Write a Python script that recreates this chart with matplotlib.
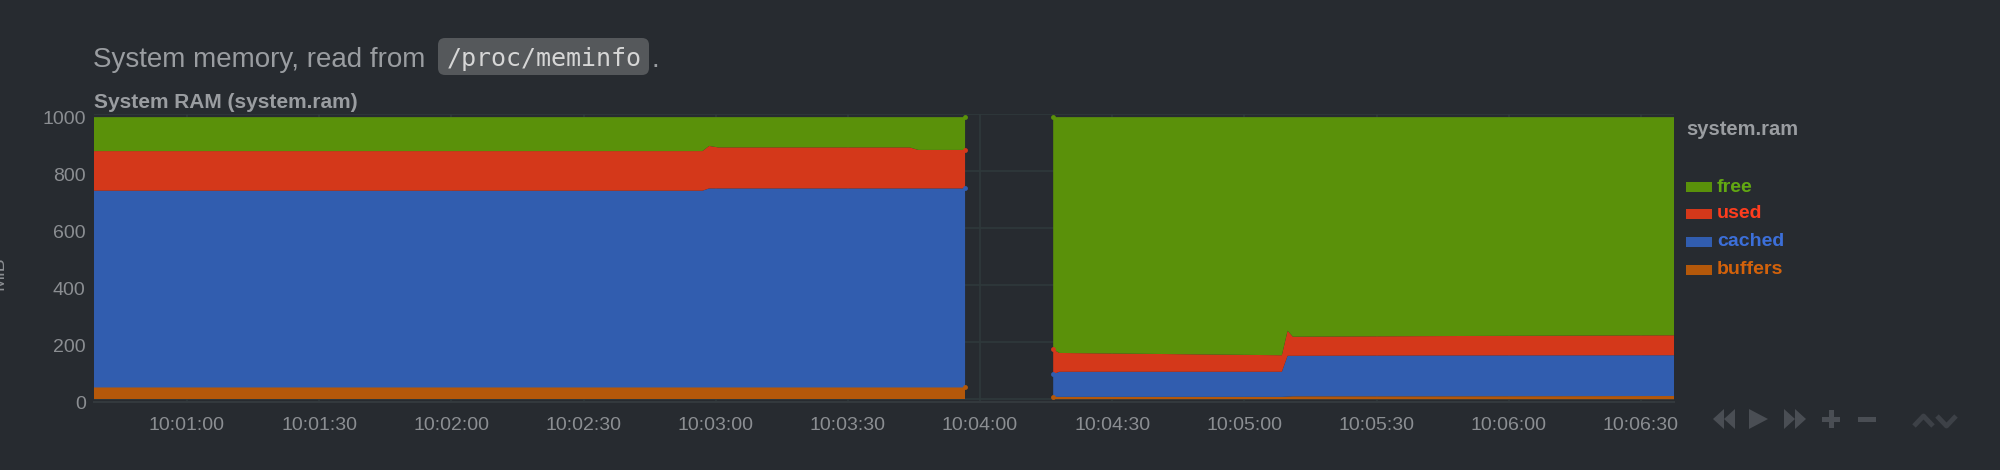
import matplotlib
matplotlib.use('Agg')
import matplotlib.pyplot as plt
import matplotlib.transforms as mtransforms
from matplotlib.patches import FancyBboxPatch, Rectangle, Polygon
from matplotlib.ticker import FuncFormatter, MultipleLocator

plt.rcParams['font.family'] = ['Liberation Sans', 'DejaVu Sans']

# seconds after 10:00:00, two collected stretches with a gap between them
times1 = [38.9, 177, 178.5, 180.5, 224, 226, 236.6]
buffers1 = [41, 41, 41, 41, 41, 41, 41]
cached1 = [690, 690, 698, 698, 698, 698, 698]
used1 = [139, 139, 149, 144, 144, 135, 135]
free1 = [119, 119, 101, 106, 106, 115, 115]

times2 = [256.6, 258, 308.5, 309.8, 311, 340, 397.5]
buffers2 = [8, 8, 8, 9, 10, 10, 11]
cached2 = [80, 88, 88, 143, 142, 143, 143]
used2 = [87, 66, 58, 88, 67, 68, 70]
free2 = [814, 827, 835, 749, 770, 768, 765]

dims = ['buffers', 'cached', 'used', 'free']
fill_cols = ['#b4580a', '#315daf', '#d4381a', '#5a910a']
text_cols = ['#d3620b', '#3c6fd9', '#ff3d1e', '#62a812']

bg = '#272b30'
grid_col = '#2f393b'
lab_col = '#8b8e92'

fig = plt.figure(figsize=(20, 4.7), dpi=100, facecolor=bg)
W, H = 2000, 470
top_px, bot_px = 114, 402
ax = fig.add_axes([94 / W, 1 - bot_px / H, (1674 - 94) / W, (bot_px - top_px) / H])
ax.set_facecolor(bg)

for t, b, c, u, f in [(times1, buffers1, cached1, used1, free1),
                      (times2, buffers2, cached2, used2, free2)]:
    ax.stackplot(t, b, c, u, f, colors=fill_cols, linewidth=0, zorder=2)
    # edge dots on each stacked top
    idx = -1 if t is times1 else 0
    acc = 0
    for series, col in zip((b, c, u, f), fill_cols):
        acc += series[idx]
        ax.plot([t[idx]], [acc], 'o', ms=3.5, color=col, mec='none', zorder=3, clip_on=False)

ax.set_xlim(38.9, 397.5)
ax.set_ylim(-10, 1000)
ax.xaxis.set_major_locator(MultipleLocator(30))
ax.yaxis.set_major_locator(MultipleLocator(200))
ax.xaxis.set_major_formatter(FuncFormatter(
    lambda v, p: '10:%02d:%02d' % (int(round(v)) // 60, int(round(v)) % 60)))
ax.grid(True, color=grid_col, lw=1.2, zorder=0)
ax.tick_params(length=0, labelsize=14, colors=lab_col)
ax.tick_params(axis='x', pad=11)
ax.tick_params(axis='y', pad=6)
shift = mtransforms.ScaledTranslation(0, -3 / 100, fig.dpi_scale_trans)
for lab in ax.get_yticklabels():
    lab.set_transform(lab.get_transform() + shift)
for s in ['top', 'left', 'right']:
    ax.spines[s].set_visible(False)
ax.spines['bottom'].set_color('#33393d')
ax.spines['bottom'].set_linewidth(1.5)

# overlay in pixel coordinates for page text, legend and controls
ov = fig.add_axes([0, 0, 1, 1])
ov.set_xlim(0, W)
ov.set_ylim(H, 0)
ov.axis('off')
ov.patch.set_visible(False)

ov.text(93, 67, 'System memory, read from', fontsize=20, color='#9a9da1', va='baseline')
ov.add_patch(FancyBboxPatch((442, 42), 203, 29, boxstyle='round,pad=4,rounding_size=7',
                            fc='#55585b', ec='none'))
ov.text(447, 66, '/proc/meminfo', family='DejaVu Sans Mono', fontsize=18,
        color='#d6d6d6', va='baseline')
ov.text(652, 67, '.', fontsize=20, color='#9a9da1', va='baseline')
ov.text(94, 108, 'System RAM (system.ram)', fontsize=15, weight='bold',
        color='#9a9da1', va='baseline')
ov.text(7, 273, 'MiB', rotation=90, fontsize=14, color=lab_col, ha='right', va='center')

# legend
ov.text(1686, 135, 'system.ram', fontsize=14.5, weight='bold', color='#9a9da1', va='baseline')
rows = [187, 214, 242, 270]
for name, fc, tc, yr in zip(dims[::-1], fill_cols[::-1], text_cols[::-1], rows):
    ov.add_patch(Rectangle((1686, yr - 5), 26, 10, fc=fc, ec='none'))
    ov.text(1717, yr, name, fontsize=14, weight='bold', color=tc, va='center')

# playback controls
ic = '#4a4e54'
ov.add_patch(Polygon([(1713, 419), (1724, 409), (1724, 429)], fc=ic, ec='none'))
ov.add_patch(Polygon([(1724, 419), (1735, 409), (1735, 429)], fc=ic, ec='none'))
ov.add_patch(Polygon([(1749, 409), (1768, 419), (1749, 429)], fc=ic, ec='none'))
ov.add_patch(Polygon([(1784, 409), (1795, 419), (1784, 429)], fc=ic, ec='none'))
ov.add_patch(Polygon([(1795, 409), (1806, 419), (1795, 429)], fc=ic, ec='none'))
ov.add_patch(Rectangle((1822, 417), 18, 5, fc=ic, ec='none'))
ov.add_patch(Rectangle((1828.5, 410), 5, 18, fc=ic, ec='none'))
ov.add_patch(Rectangle((1858, 417), 18, 5, fc=ic, ec='none'))
ch = '#3d4147'
ov.plot([1914, 1923.5, 1933], [426, 416, 426], color=ch, lw=3.5, solid_capstyle='butt')
ov.plot([1937, 1946.5, 1956], [416, 426, 416], color=ch, lw=3.5, solid_capstyle='butt')

fig.savefig('out.png', dpi=100, facecolor=bg)
